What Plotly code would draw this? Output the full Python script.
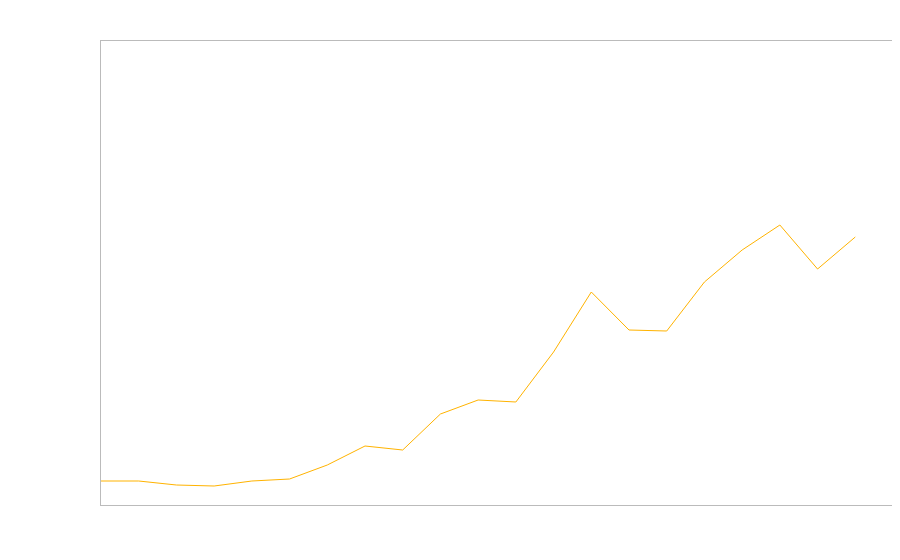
import plotly.graph_objects as go

# one point per period
periodes = list(range(21))
valeurs = [24, 24, 20, 19, 24, 26, 40, 59, 55, 91, 105, 103, 153, 213, 175, 174, 223, 255, 280, 236, 268]

fig = go.Figure(
    go.Scatter(
        x=periodes,
        y=valeurs,
        mode="lines",
        line=dict(color="#ffb300", width=1),
        showlegend=False,
        hoverinfo="skip",
    )
)

axe = dict(
    showline=True,
    linecolor="#bbbbbb",
    linewidth=1,
    mirror=True,
    showgrid=False,
    zeroline=False,
    showticklabels=False,
    ticks="",
)

# the page body adds a small margin, so the figure is a bit smaller than the window
fig.update_layout(
    width=893,
    height=553,
    margin=dict(l=93, r=8, t=33, b=56),
    plot_bgcolor="white",
    paper_bgcolor="white",
    xaxis=dict(range=[0, 21], **axe),
    yaxis=dict(range=[0, 464], **axe),
)

fig.write_html("out.html")
